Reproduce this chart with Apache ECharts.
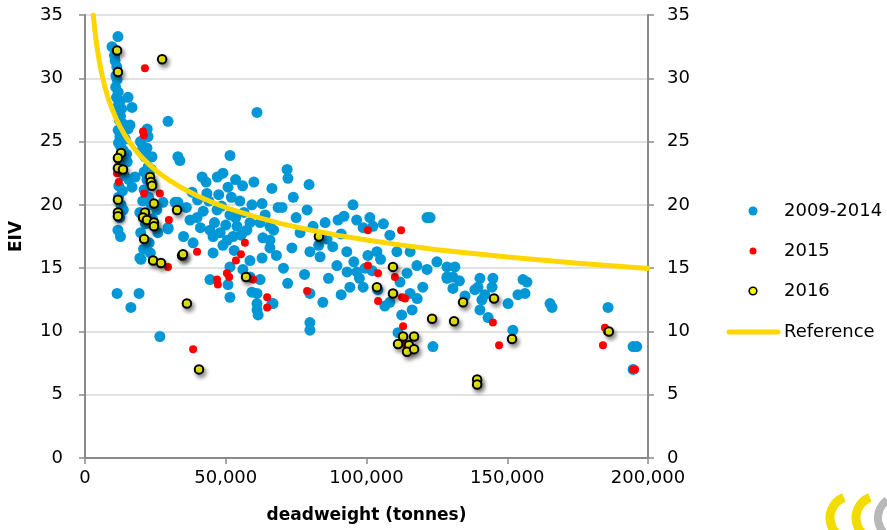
<!DOCTYPE html>
<html>
<head>
<meta charset="utf-8">
<script src="https://cdn.jsdelivr.net/npm/echarts@6/dist/echarts.min.js"></script>
<style>
html,body{margin:0;padding:0;background:#fff;}
#chart{width:887px;height:530px;}
</style>
</head>
<body>
<div id="chart"></div>
<script>
// ---- data (deadweight in tonnes, EIV) ----
const seriesNames = ['2009-2014', '2015', '2016', 'Reference'];

const blue2009_2014 = [
  [11700,33.3],[9600,32.5],[10500,31.8],[10700,31.4],[11300,30.9],[11000,30.2],[11400,29.9],[10900,29.3],[11800,28.9],[11200,28.5],
  [12500,28.2],[15300,28.5],[11900,27.9],[13000,27.6],[16700,27.7],[11800,27.3],[12600,27.0],[12200,26.7],[13500,26.4],[16000,26.3],
  [15300,26.0],[11800,25.9],[13000,25.7],[12400,25.4],[14300,25.2],[11900,24.9],[12700,24.6],[13600,24.3],[14800,24.0],[12200,23.6],
  [13000,23.2],[15000,23.4],[12400,22.7],[14000,22.3],[15600,22.0],[12000,21.5],[13300,21.1],[11900,20.6],[12800,20.0],[13600,19.6],
  [12300,19.0],[11700,18.0],[12600,17.5],[11400,13.0],
  [20600,24.6],[21300,23.8],[22400,23.0],[22400,25.4],[23800,23.8],[23800,21.7],[17800,22.2],[16700,21.4],[21000,22.6],[22000,22.0],
  [20000,24.2],[19700,25.0],[22000,24.5],[23500,22.8],[21000,21.2],[22600,20.6],[19500,19.4],[20500,20.3],[23500,20.0],[25500,19.6],
  [21500,18.5],[24000,18.9],[19800,17.8],[22800,17.0],[25900,17.8],[19500,15.8],[19900,15.7],[20800,16.5],[23200,16.2],[19200,13.0],
  [16300,11.9],[26600,9.6],[27700,20.2],[29500,18.2],[32000,20.2],[29500,26.6],[33000,23.8],[33700,23.5],[22100,26.0],
  [41600,22.2],[43300,20.9],[49000,22.5],[51500,23.9],[50800,21.4],[66400,21.3],[33000,20.2],[59300,20.0],[62900,20.1],[68600,19.8],
  [39800,19.0],[46900,19.6],[51500,19.2],[37300,18.8],[44400,18.0],[54000,18.3],[57500,18.0],[62200,18.6],[65700,18.3],[45500,17.5],
  [49000,16.8],[52600,17.5],[63200,17.4],[65700,16.6],[38400,17.0],[45500,16.2],[58600,15.6],[62900,15.8],[51500,15.1],[56100,14.9],
  [44400,14.1],[50800,13.7],[59300,13.1],[51500,12.7],[61100,12.2],[61500,11.3],[66800,12.2],[58600,14.3],[61100,27.3],[62200,14.1],
  [66400,12.2],[61100,11.7],[61100,13.0],[65700,17.2],[58600,18.6],[29500,18.1],
  [42000,19.5],[44000,20.3],[46000,18.6],[47500,20.8],[48500,19.9],[50000,18.4],[52000,20.6],[53500,19.0],[55000,20.3],[56500,19.4],
  [48000,17.8],[50500,17.2],[53000,16.4],[55500,17.6],[41000,18.2],[36000,19.8],[38000,21.0],[40000,20.4],[35000,17.5],[43000,21.8],
  [47000,22.2],[53500,22.0],[56000,21.5],[60000,21.8],[64000,19.2],[67000,18.0],[70000,19.8],[71800,22.8],[72100,22.1],[79600,21.6],
  [78900,19.6],[73500,16.6],[79900,16.3],[83500,15.9],[76400,17.8],[85300,18.6],[89900,18.8],[95200,20.0],[98800,18.2],[101200,19.0],
  [102300,18.3],[100500,16.0],[103700,16.3],[108300,17.6],[110800,16.3],[115500,16.3],[121500,19.0],[122600,19.0],[89500,15.2],[93100,14.7],
  [94100,13.5],[98800,13.5],[96600,14.7],[117900,15.2],[125000,15.5],[128600,14.3],[114400,14.6],[111900,13.9],[115500,13.0],[108300,12.3],
  [116200,11.7],[79900,13.0],[84500,12.3],[79900,10.7],[79900,10.1],[123600,8.8],[111200,9.9],
  [128600,15.1],[131400,15.1],[121500,14.9],[128600,14.2],[130700,14.3],[130700,13.4],[140300,14.2],[139600,13.5],[144900,14.2],[144600,13.5],
  [141000,12.5],[140300,11.7],[143200,11.1],[150300,12.2],[153800,12.9],[156300,13.0],[157000,13.9],[165200,12.2],[165900,11.9],[185800,11.9],
  [152000,10.1],[194700,8.8],[196000,8.8],[194700,7.0],[138500,13.3],[155600,14.1],
  [86000,17.3],[88000,16.7],[91000,17.7],[93000,16.3],[95500,15.5],[97500,14.2],[99500,15.0],[102000,14.8],[105000,15.7],[92000,19.1],
  [96500,18.8],[106000,18.5],[81000,18.3],[83000,16.8],[75000,19.0],[74000,20.6],[68000,16.0],[70500,15.0],[72000,13.8],[78000,14.5],
  [86500,14.2],[91000,12.9],[104000,13.3],[106500,12.0],[112500,11.3],[118000,12.6],[120000,13.5],[133000,14.0],[135000,12.8],[142000,12.9]
];

const red2015 = [
  [21300,30.8],[20600,25.8],[20900,25.5],[11400,22.5],[12000,21.8],[21000,20.9],[26600,20.9],[29800,18.8],[29500,15.1],[39800,16.3],
  [38400,8.6],[56800,17.0],[55400,16.1],[53600,15.6],[50400,14.6],[51200,14.3],[46900,14.1],[47200,13.7],[59700,14.1],[64700,12.7],
  [64700,11.9],[100500,18.0],[112300,18.0],[100500,15.2],[104100,14.6],[110100,14.3],[78900,13.2],[104100,12.4],[112600,12.7],[113700,12.6],
  [113000,10.4],[144900,10.7],[147100,8.9],[184700,10.3],[185400,10.0],[184000,8.9],[195400,7.0],[194700,7.0],[113500,9.0]
];

const yellow2016 = [
  [11400,32.2],[27400,31.5],[11700,30.5],[12800,24.1],[11700,23.7],[11700,22.9],[13500,22.8],[23100,22.2],[23400,21.8],[23800,21.5],
  [24500,20.1],[11700,20.4],[11700,19.4],[11700,19.1],[21300,19.4],[20600,19.0],[22000,18.8],[24500,18.6],[24500,18.3],[32700,19.6],
  [21000,17.3],[24200,15.6],[27000,15.4],[34500,16.0],[34800,16.1],[57200,14.3],[36200,12.2],[40500,7.0],[83100,17.5],[109400,15.1],
  [103700,13.5],[109400,13.0],[123300,11.0],[145300,12.6],[134300,12.3],[131100,10.8],[151700,9.4],[186100,10.0],[139300,6.2],[139300,5.8],
  [113000,9.6],[116900,9.6],[111200,9.0],[115100,8.9],[114400,8.4],[116900,8.6]
];

const referenceLine = [
  [2950,35.0],[3500,33.78],[4000,32.9],[4500,32.12],[5000,31.45],[6000,30.3],[7000,29.39],[8000,28.6],[9000,27.95],[10000,27.37],
  [11000,26.84],[12500,26.16],[14000,25.57],[15000,25.22],[17500,24.45],[20000,23.8],[22500,23.24],[25000,22.75],[27500,22.32],[30000,21.94],
  [35000,21.27],[40000,20.7],[45000,20.22],[50000,19.79],[60000,19.09],[70000,18.5],[80000,18.01],[90000,17.59],[100000,17.22],[112500,16.82],
  [125000,16.46],[150000,15.88],[175000,15.39],[200000,14.98]
];

const xTicks = [0, 50000, 100000, 150000, 200000];
const yTicks = [0, 5, 10, 15, 20, 25, 30, 35];

// ---- colours ----
const FONT = 'DejaVu Sans';
const axisGray = '#8a8a8a';
const cBlue = '#0097d7', cRed = '#ff0000', cYellow = '#ffff00', cRef = '#ffd600';

const chart = echarts.init(document.getElementById('chart'), null, {renderer: 'canvas'});

const legendRows = [
  {name: seriesNames[0], y: 211, kind: 'dot', r: 4.5, fill: cBlue},
  {name: seriesNames[1], y: 251, kind: 'dot', r: 3.5, fill: cRed},
  {name: seriesNames[2], y: 291, kind: 'dot', r: 3.8, fill: cYellow, stroke: '#000'},
  {name: seriesNames[3], y: 332, kind: 'line'}
];
const legendGraphics = [];
legendRows.forEach(row => {
  if (row.kind === 'dot') {
    legendGraphics.push({type: 'circle', shape: {cx: 753, cy: row.y, r: row.r}, silent: true,
      style: {fill: row.fill, stroke: row.stroke || null, lineWidth: row.stroke ? 1.6 : 0}});
  } else {
    legendGraphics.push({type: 'line', shape: {x1: 729, y1: row.y, x2: 778, y2: row.y}, silent: true,
      style: {stroke: cRef, lineWidth: 5, lineCap: 'round'}});
  }
  legendGraphics.push({type: 'text', x: 784, y: row.y, silent: true,
    style: {text: row.name, fontFamily: FONT, fontSize: 18, fill: '#000', textVerticalAlign: 'middle', verticalAlign: 'middle', textAlign: 'left', align: 'left'}});
});

const yAxisCommon = {
  type: 'value', min: yTicks[0], max: yTicks[yTicks.length-1], interval: 5,
  axisLine: {show: true, lineStyle: {color: axisGray, width: 2}},
  axisTick: {show: true, length: 6, lineStyle: {color: axisGray, width: 1.5}}
};

chart.setOption({
  animation: false,
  backgroundColor: '#fff',
  grid: {left: 85, right: 239, top: 15, bottom: 72, containLabel: false, outerBoundsMode: 'none'},
  xAxis: {
    type: 'value', min: xTicks[0], max: xTicks[xTicks.length-1], interval: 50000,
    name: 'deadweight (tonnes)', nameLocation: 'middle', nameGap: 49,
    nameTextStyle: {fontFamily: FONT, fontSize: 17, fontWeight: 'bold', color: '#000'},
    axisLine: {show: true, lineStyle: {color: axisGray, width: 2}},
    axisTick: {show: true, length: 6, lineStyle: {color: axisGray, width: 1.5}},
    axisLabel: {fontFamily: FONT, fontSize: 18, color: '#000', margin: 11,
      formatter: v => v.toLocaleString('en-US')},
    splitLine: {show: false}
  },
  yAxis: [Object.assign({}, yAxisCommon, {
    position: 'left',
    name: 'EIV', nameLocation: 'middle', nameGap: 60,
    nameTextStyle: {fontFamily: FONT, fontSize: 17, fontWeight: 'bold', color: '#000'},
    axisLabel: {fontFamily: FONT, fontSize: 18, color: '#000', margin: 22},
    splitLine: {show: true, lineStyle: {color: '#d8d8d8', width: 1.5}}
  }), Object.assign({}, yAxisCommon, {
    position: 'right', offset: 0,
    axisLabel: {fontFamily: FONT, fontSize: 18, color: '#000', margin: 19, align: 'left'},
    splitLine: {show: false}
  })],
  series: [
    {name: seriesNames[0], type: 'scatter', data: blue2009_2014, symbol: 'circle', symbolSize: 11,
     itemStyle: {color: cBlue, opacity: 1}, z: 2},
    {name: seriesNames[1], type: 'scatter', data: red2015, symbol: 'circle', symbolSize: 8,
     itemStyle: {color: cRed, opacity: 1}, z: 3},
    {name: seriesNames[2], type: 'scatter', data: yellow2016, symbol: 'circle', symbolSize: 8.5,
     itemStyle: {color: cYellow, borderColor: '#000', borderWidth: 2, opacity: 1,
       shadowColor: 'rgba(0,0,0,0.45)', shadowBlur: 4, shadowOffsetX: 2, shadowOffsetY: 3}, z: 4},
    {name: seriesNames[3], type: 'line', data: referenceLine, smooth: false,
     symbol: 'none', showSymbol: false, clip: true,
     lineStyle: {color: cRef, width: 5, cap: 'round', join: 'round'}, itemStyle: {color: cRef}, z: 5}
  ],
  graphic: legendGraphics.concat([
    {type: 'arc', shape: {cx: 852, cy: 518, r: 22, startAngle: Math.PI*0.62, endAngle: Math.PI*1.38},
     style: {stroke: '#f2dc00', lineWidth: 9, fill: null}, silent: true},
    {type: 'arc', shape: {cx: 878, cy: 518, r: 22, startAngle: Math.PI*0.62, endAngle: Math.PI*1.38},
     style: {stroke: '#f2dc00', lineWidth: 9, fill: null}, silent: true},
    {type: 'arc', shape: {cx: 900, cy: 518, r: 22, startAngle: Math.PI*0.7, endAngle: Math.PI*1.3},
     style: {stroke: '#b8b8b8', lineWidth: 8, fill: null}, silent: true}
  ])
});
</script>
</body>
</html>
